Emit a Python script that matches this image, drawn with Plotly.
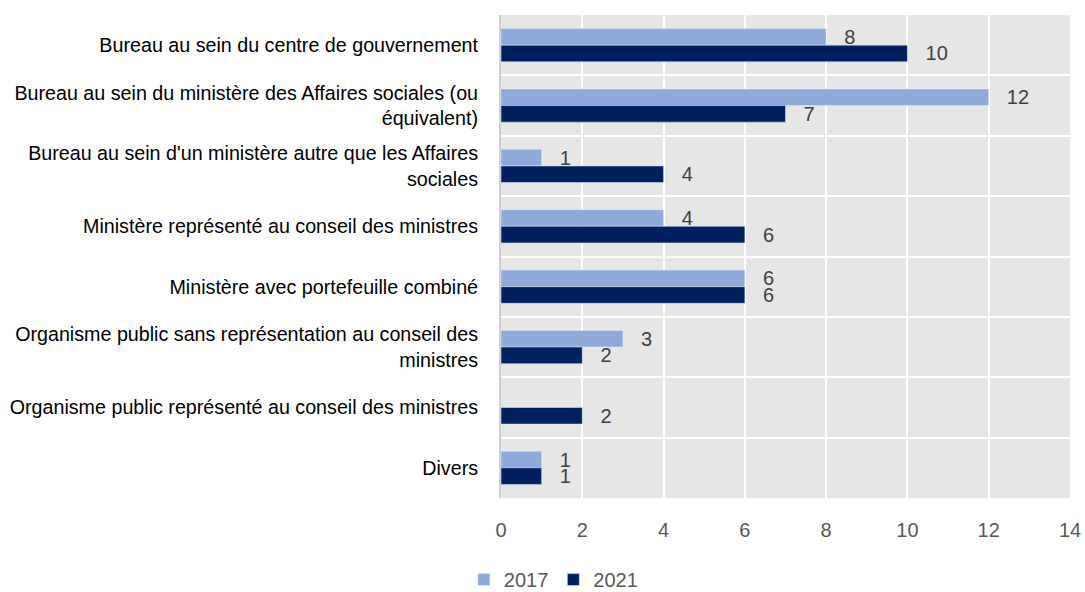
import plotly.graph_objects as go

categories = [
    "Bureau au sein du centre de gouvernement",
    "Bureau au sein du ministère des Affaires sociales (ou<br>équivalent)",
    "Bureau au sein d'un ministère autre que les Affaires<br>sociales",
    "Ministère représenté au conseil des ministres",
    "Ministère avec portefeuille combiné",
    "Organisme public sans représentation au conseil des<br>ministres",
    "Organisme public représenté au conseil des ministres",
    "Divers",
]
values_2017 = [8, 12, 1, 4, 6, 3, None, 1]
values_2021 = [10, 7, 4, 6, 6, 2, 2, 1]
x_ticks = [0, 2, 4, 6, 8, 10, 12, 14]

def labels(vals):
    return ["  \u2009" + str(v) if v is not None else "" for v in vals]

fig = go.Figure()
for name, vals, color in [("2017", values_2017, "#8eaadb"), ("2021", values_2021, "#002060")]:
    fig.add_trace(go.Bar(
        y=categories, x=vals, name=name, orientation="h",
        marker=dict(color=color),
        text=labels(vals), textposition="outside", constraintext="none",
        textfont=dict(color="#404040", size=20, family="Liberation Sans"),
        cliponaxis=False,
    ))

fig.update_layout(
    width=1085, height=592,
    margin=dict(l=501, r=15, t=15, b=94, autoexpand=False),
    barmode="group", bargap=0.45, bargroupgap=0,
    plot_bgcolor="#e6e6e6", paper_bgcolor="white",
    font=dict(family="Liberation Sans", size=19.7, color="#000000"),
    legend=dict(orientation="h", xref="container", x=0.51, xanchor="center",
                yref="container", y=0.021, yanchor="middle",
                font=dict(color="#595959", size=20), traceorder="normal"),
)
fig.update_xaxes(
    range=[0, 14], tickvals=x_ticks, showgrid=True, gridcolor="white",
    gridwidth=2, zeroline=False, showline=False, automargin=False,
    tickfont=dict(color="#595959", size=20), ticks="", ticklabelstandoff=18,
)
fig.update_yaxes(
    autorange="reversed", type="category", tickson="boundaries",
    showgrid=True, gridcolor="white", gridwidth=2, automargin=False,
    showline=True, linecolor="#d0d0d0", linewidth=2,
    tickfont=dict(color="#000000", size=19.7), ticks="", ticklabelstandoff=17,
)
fig.write_html(
    "out.html",
    config={"displayModeBar": False},
    post_script="document.body.style.margin='0';document.body.style.overflow='hidden';",
)
